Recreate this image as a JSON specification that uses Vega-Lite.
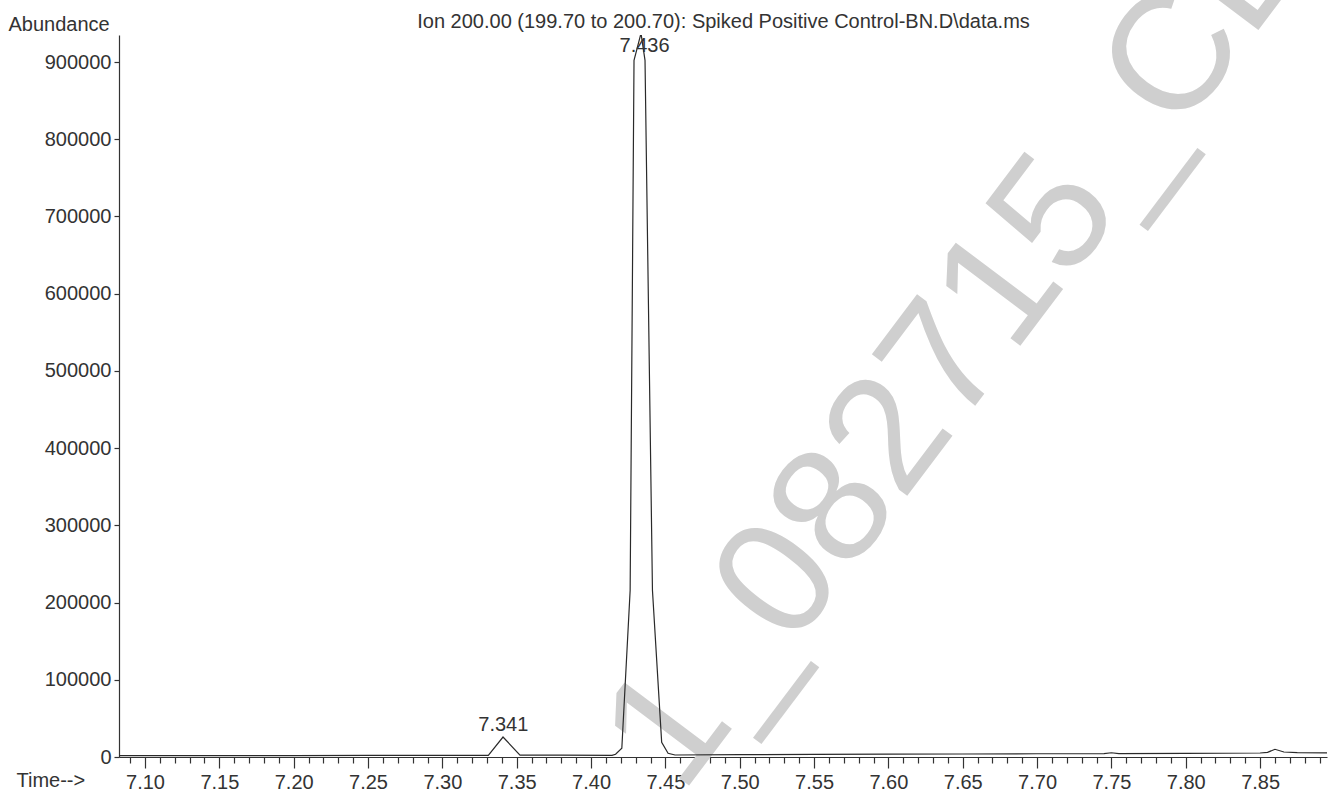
{
  "$schema": "https://vega.github.io/schema/vega-lite/v6.json",
  "width": 1208,
  "height": 722,
  "autosize": "none",
  "padding": {"left": 119, "top": 35, "right": 13, "bottom": 36},
  "background": "white",
  "config": {
    "view": {"stroke": null},
    "font": "Liberation Sans",
    "axis": {
      "domainColor": "#333333",
      "domainWidth": 1.2,
      "tickColor": "#333333",
      "tickWidth": 1.2,
      "labelColor": "#333333",
      "labelFont": "Liberation Sans",
      "labelFontSize": 20,
      "titleFont": "Liberation Sans",
      "titleFontSize": 20,
      "titleFontWeight": "normal",
      "titleColor": "#333333",
      "grid": false
    }
  },
  "resolve": {"axis": {"x": "independent"}},
  "layer": [
    {
      "data": {"values": [{}]},
      "mark": {"type": "text", "text": "1_082715_CE", "font": "Liberation Sans", "fontSize": 165, "angle": 307, "align": "center", "baseline": "middle", "color": "#cfcfcf"},
      "encoding": {
        "x": {"datum": 7.6475, "type": "quantitative", "axis": null},
        "y": {"datum": 534600, "type": "quantitative", "title": "Abundance"}
      }
    },
    {
      "data": {
        "values": [
          {"time": 7.0825, "abundance": 1800},
          {"time": 7.10, "abundance": 1800},
          {"time": 7.15, "abundance": 1900},
          {"time": 7.20, "abundance": 1900},
          {"time": 7.25, "abundance": 2000},
          {"time": 7.30, "abundance": 2100},
          {"time": 7.3309, "abundance": 2200},
          {"time": 7.3408, "abundance": 25900},
          {"time": 7.3522, "abundance": 2300},
          {"time": 7.38, "abundance": 2300},
          {"time": 7.4141, "abundance": 2200},
          {"time": 7.4165, "abundance": 3500},
          {"time": 7.4207, "abundance": 11300},
          {"time": 7.4263, "abundance": 215900},
          {"time": 7.4289, "abundance": 902200},
          {"time": 7.4336, "abundance": 937200},
          {"time": 7.4363, "abundance": 902200},
          {"time": 7.4413, "abundance": 215900},
          {"time": 7.4475, "abundance": 19000},
          {"time": 7.4518, "abundance": 4800},
          {"time": 7.4565, "abundance": 2600},
          {"time": 7.50, "abundance": 3100},
          {"time": 7.55, "abundance": 3300},
          {"time": 7.60, "abundance": 3600},
          {"time": 7.65, "abundance": 3900},
          {"time": 7.70, "abundance": 4200},
          {"time": 7.745, "abundance": 4400},
          {"time": 7.75, "abundance": 5500},
          {"time": 7.755, "abundance": 4500},
          {"time": 7.80, "abundance": 4800},
          {"time": 7.85, "abundance": 5200},
          {"time": 7.855, "abundance": 6000},
          {"time": 7.860, "abundance": 10000},
          {"time": 7.866, "abundance": 6500},
          {"time": 7.875, "abundance": 5600},
          {"time": 7.895, "abundance": 5400}
        ]
      },
      "mark": {"type": "line", "color": "#2a2a2a", "strokeWidth": 1.2, "clip": true},
      "encoding": {
        "x": {
          "field": "time",
          "type": "quantitative",
          "scale": {"domain": [7.0825, 7.895], "nice": false, "zero": false},
          "axis": {
            "orient": "bottom",
            "title": "Time-->",
            "titleX": -103,
            "titleY": 29,
            "titleAlign": "left",
            "titleBaseline": "alphabetic",
            "titleAngle": 0,
            "values": [7.10, 7.15, 7.20, 7.25, 7.30, 7.35, 7.40, 7.45, 7.50, 7.55, 7.60, 7.65, 7.70, 7.75, 7.80, 7.85],
            "format": ".2f",
            "tickSize": 11,
            "labelPadding": 4,
            "labelOverlap": false,
            "labelFlush": false
          }
        },
        "y": {
          "field": "abundance",
          "type": "quantitative",
          "scale": {"domain": [0, 935000], "nice": false, "zero": true},
          "axis": {
            "title": "Abundance",
            "titleAngle": 0,
            "titleAlign": "left",
            "titleBaseline": "alphabetic",
            "titleX": -111,
            "titleY": -5,
            "values": [0, 100000, 200000, 300000, 400000, 500000, 600000, 700000, 800000, 900000],
            "format": "d",
            "tickSize": 5,
            "labelPadding": 3,
            "labelOverlap": false
          }
        }
      }
    },
    {
      "data": {"values": [{"time": 7.341, "abundance": 25900, "label": "7.341"}]},
      "mark": {"type": "text", "font": "Liberation Sans", "fontSize": 20, "align": "center", "baseline": "alphabetic", "dy": -6, "color": "#333333"},
      "encoding": {
        "x": {
          "field": "time",
          "type": "quantitative",
          "axis": {
            "orient": "bottom",
            "title": null,
            "labels": false,
            "domain": false,
            "tickSize": 6,
            "values": [7.09, 7.11, 7.12, 7.13, 7.14, 7.16, 7.17, 7.18, 7.19, 7.21, 7.22, 7.23, 7.24, 7.26, 7.27, 7.28, 7.29, 7.31, 7.32, 7.33, 7.34, 7.36, 7.37, 7.38, 7.39, 7.41, 7.42, 7.43, 7.44, 7.46, 7.47, 7.48, 7.49, 7.51, 7.52, 7.53, 7.54, 7.56, 7.57, 7.58, 7.59, 7.61, 7.62, 7.63, 7.64, 7.66, 7.67, 7.68, 7.69, 7.71, 7.72, 7.73, 7.74, 7.76, 7.77, 7.78, 7.79, 7.81, 7.82, 7.83, 7.84, 7.86, 7.87, 7.88, 7.89]
          }
        },
        "y": {"field": "abundance", "type": "quantitative", "title": "Abundance"},
        "text": {"field": "label", "type": "nominal"}
      }
    },
    {
      "data": {"values": [{"time": 7.436, "abundance": 935000, "label": "7.436"}]},
      "mark": {"type": "text", "font": "Liberation Sans", "fontSize": 20, "align": "center", "baseline": "alphabetic", "dy": 17, "color": "#333333"},
      "encoding": {
        "x": {
          "field": "time",
          "type": "quantitative",
          "axis": {
            "orient": "top",
            "title": "Ion 200.00 (199.70 to 200.70): Spiked Positive Control-BN.D\\data.ms",
            "titleX": 604,
            "titleY": -8,
            "titleAlign": "center",
            "titleBaseline": "alphabetic",
            "titleAngle": 0,
            "labels": false,
            "ticks": false,
            "domain": false
          }
        },
        "y": {"field": "abundance", "type": "quantitative", "title": "Abundance"},
        "text": {"field": "label", "type": "nominal"}
      }
    }
  ]
}
